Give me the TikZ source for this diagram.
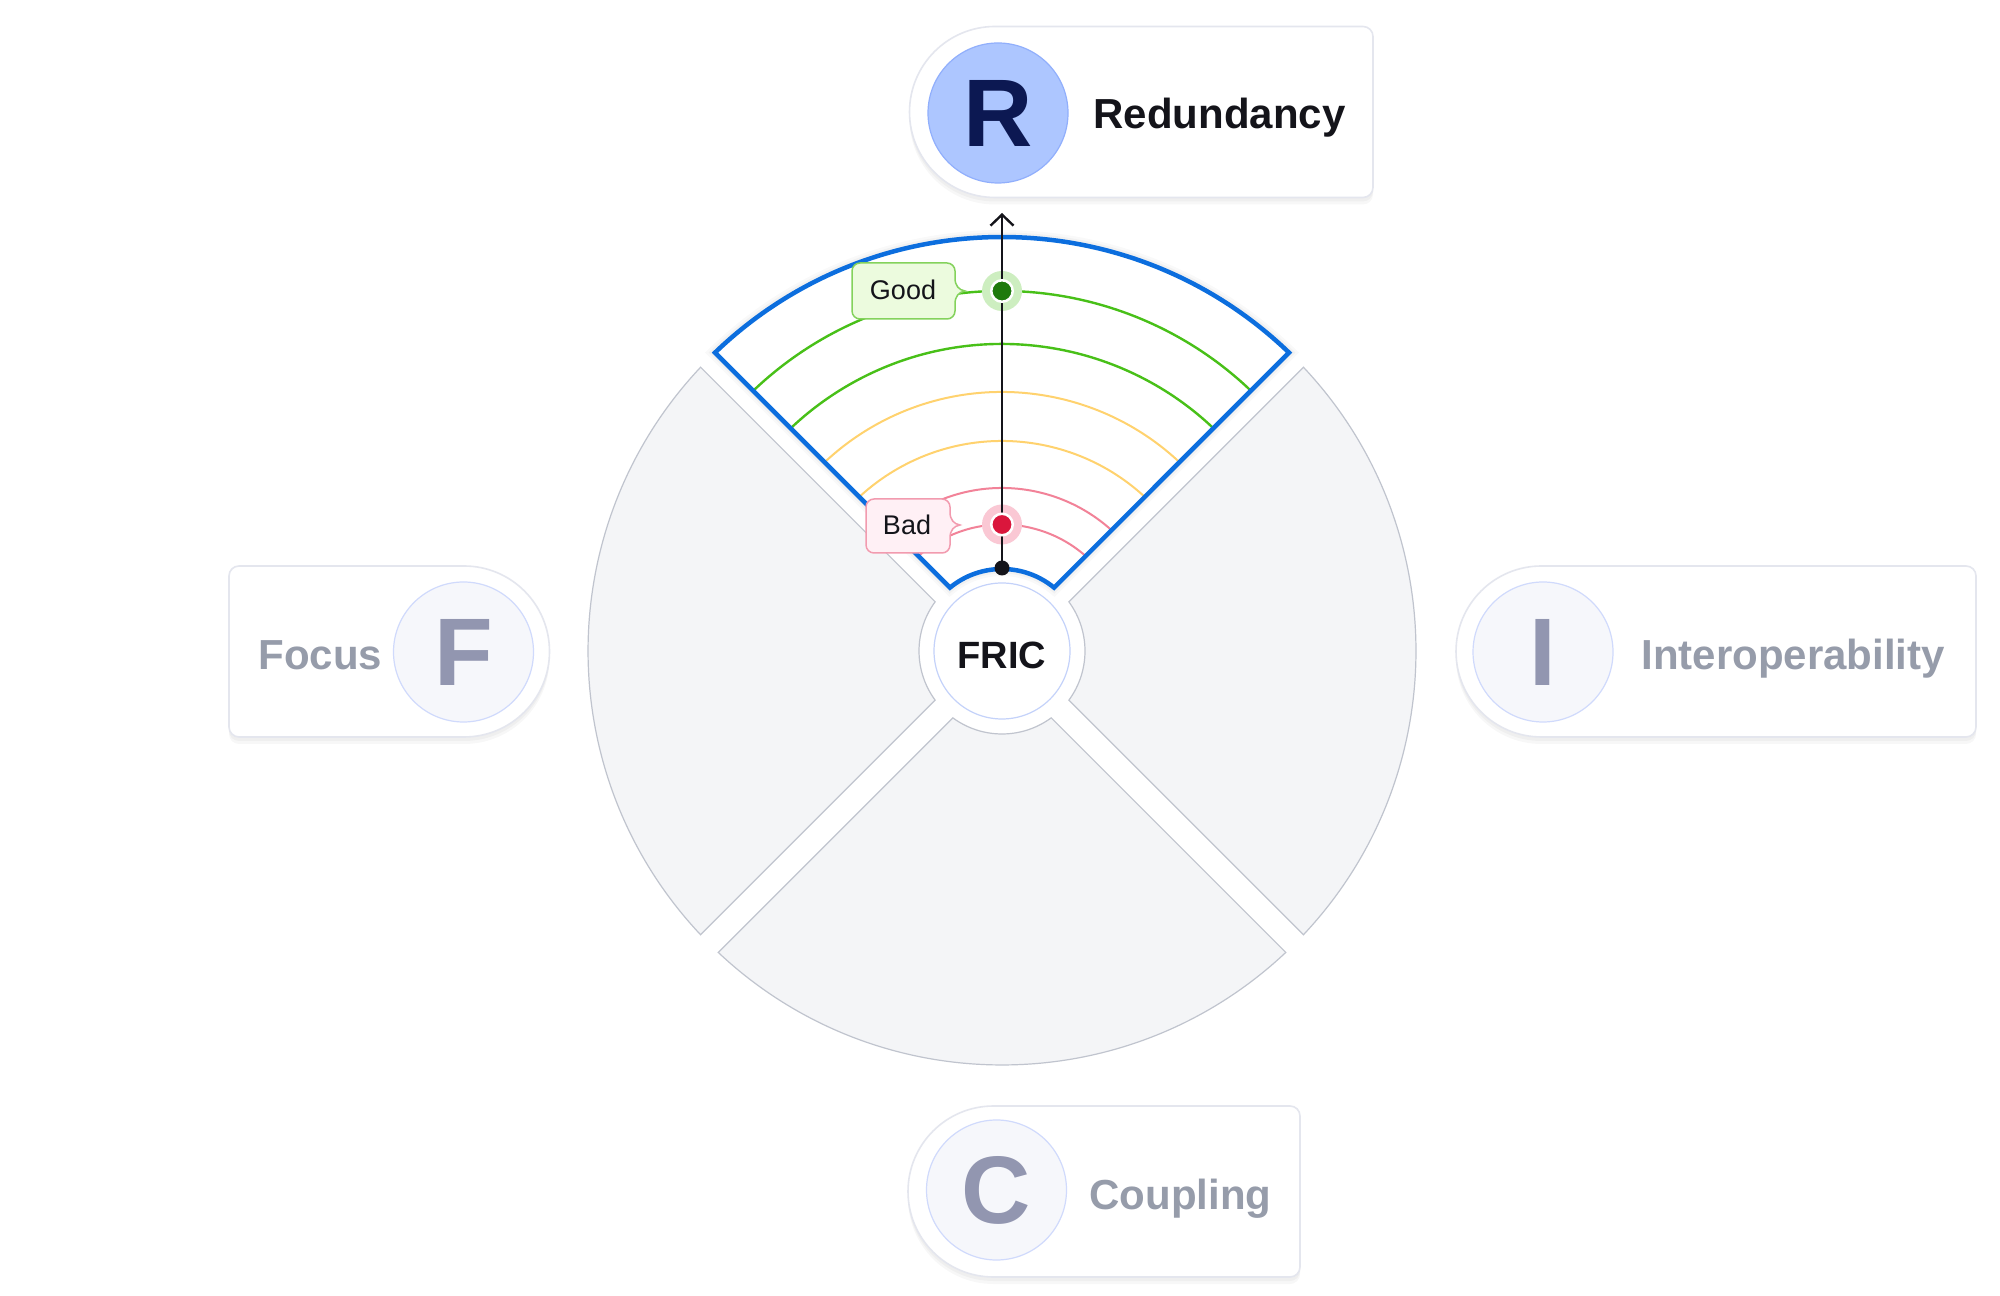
\documentclass[tikz,border=0pt]{standalone}
\usepackage{fontspec}
\setmainfont{Liberation Sans}
\usetikzlibrary{arrows.meta,calc}
\definecolor{sectfill}{RGB}{244,245,247}
\definecolor{sectline}{RGB}{192,196,206}
\definecolor{blueedge}{RGB}{12,110,222}
\definecolor{ringgreen}{RGB}{72,192,24}
\definecolor{ringyellow}{RGB}{255,210,110}
\definecolor{ringpink}{RGB}{242,130,152}
\definecolor{cardline}{RGB}{228,230,238}
\definecolor{mutedfill}{RGB}{246,247,251}
\definecolor{mutedline}{RGB}{208,218,252}
\definecolor{mutedletter}{RGB}{146,150,176}
\definecolor{mutedtext}{RGB}{150,156,170}
\definecolor{activefill}{RGB}{173,198,255}
\definecolor{activeline}{RGB}{145,175,252}
\definecolor{activeletter}{RGB}{12,24,82}
\definecolor{ink}{RGB}{20,20,26}
\definecolor{goodfill}{RGB}{236,251,222}
\definecolor{goodline}{RGB}{132,210,92}
\definecolor{gooddot}{RGB}{30,122,12}
\definecolor{goodhalo}{RGB}{205,238,192}
\definecolor{badfill}{RGB}{255,240,245}
\definecolor{badline}{RGB}{242,155,175}
\definecolor{baddot}{RGB}{218,22,60}
\definecolor{badhalo}{RGB}{250,200,212}
\definecolor{fricline}{RGB}{196,210,250}
\newcommand{\leftpill}[3]{(#1,#2+85.5) -- (#3-10,#2+85.5) arc[start angle=90,end angle=0,radius=10] -- (#3,#2-75.5) arc[start angle=0,end angle=-90,radius=10] -- (#1,#2-85.5) arc[start angle=270,end angle=90,radius=85.5] -- cycle}
\newcommand{\rightpill}[3]{(#1,#2+85.5) arc[start angle=90,end angle=-90,radius=85.5] -- (#3+10,#2-85.5) arc[start angle=270,end angle=180,radius=10] -- (#3,#2+75.5) arc[start angle=180,end angle=90,radius=10] -- cycle}
\newcommand{\bluepath}{(133.89:414) arc[start angle=133.89,end angle=46.11,radius=414] -- (50.6:82) arc[start angle=50.6,end angle=129.4,radius=82] -- cycle}
\begin{document}
\begin{tikzpicture}[x=0.5pt,y=0.5pt,
  card/.style={fill=white, draw=cardline, line width=0.8pt},
  cardshadow/.style={fill=black, fill opacity=0.03, draw=none},
  lettercircle/.style={circle, minimum size=70pt, inner sep=0pt, line width=0.6pt, font=\fontsize{48}{50}\selectfont\bfseries},
  mutedcircle/.style={lettercircle, fill=mutedfill, draw=mutedline, text=mutedletter},
  activecircle/.style={lettercircle, fill=activefill, draw=activeline, text=activeletter},
  cardlabel/.style={anchor=base west, inner sep=0pt, font=\fontsize{21}{25}\selectfont\bfseries},
  sector/.style={fill=sectfill, draw=sectline, line width=0.6pt},
  ringg/.style={draw=ringgreen, line width=1.2pt},
  ringy/.style={draw=ringyellow, line width=1pt},
  ringp/.style={draw=ringpink, line width=1pt},
  halo/.style={circle, minimum size=20pt, inner sep=0pt, draw=none},
  valuedot/.style={circle, minimum size=10.75pt, inner sep=0pt, draw=white, line width=1.25pt},
  labeltext/.style={anchor=base, inner sep=0pt, text=ink, font=\fontsize{13.5}{15}\selectfont},
  goodlabel/.style={fill=goodfill, draw=goodline, line width=0.75pt},
  badlabel/.style={fill=badfill, draw=badline, line width=0.75pt}
]
\useasboundingbox (0,0) rectangle (2000,1295);
\fill[white] (0,0) rectangle (2000,1295);

% ---------- cards ----------
\fill[cardshadow, shift={(0,-4)}] \leftpill{995}{1183}{1373};
\fill[cardshadow, shift={(0,-7)}] \leftpill{995}{1183}{1373};
\path[card] \leftpill{995}{1183}{1373};
\node[activecircle] (rcirc) at (998,1182) {R};
\node[cardlabel, text=ink] (rtext) at (1093,1166) {Redundancy};

\fill[cardshadow, shift={(0,-4)}] \rightpill{464}{643.5}{229};
\fill[cardshadow, shift={(0,-7)}] \rightpill{464}{643.5}{229};
\path[card] \rightpill{464}{643.5}{229};
\node[mutedcircle] (fcirc) at (463.5,643) {F};
\node[cardlabel, text=mutedtext] (ftext) at (258,625) {Focus};

\fill[cardshadow, shift={(0,-4)}] \leftpill{1541.5}{643.5}{1976};
\fill[cardshadow, shift={(0,-7)}] \leftpill{1541.5}{643.5}{1976};
\path[card] \leftpill{1541.5}{643.5}{1976};
\node[mutedcircle] (icirc) at (1543,643) {I};
\node[cardlabel, text=mutedtext] (itext) at (1641,625) {Interoperability};

\fill[cardshadow, shift={(0,-4)}] \leftpill{993.5}{103.5}{1300};
\fill[cardshadow, shift={(0,-7)}] \leftpill{993.5}{103.5}{1300};
\path[card] \leftpill{993.5}{103.5}{1300};
\node[mutedcircle] (ccirc) at (996.5,105) {C};
\node[cardlabel, text=mutedtext] (ctext) at (1089,86) {Coupling};

% ---------- wheel ----------
\begin{scope}[shift={(1002,644)}]
  \foreach \b in {0,180,270} {
    \path[sector] ({\b+43.27}:414) arc[start angle={\b+43.27}, end angle={\b-43.27}, radius=414]
       -- ({\b-36.34}:83) arc[start angle={\b-36.34}, end angle={\b+36.34}, radius=83] -- cycle;
  }
  % active sector
  \draw[line width=7pt, draw opacity=0.025, black] \bluepath;
  \draw[line width=4.5pt, draw opacity=0.03, black] \bluepath;
  \fill[white] \bluepath;
  \begin{scope}
    \clip \bluepath;
    \draw[ringg] (30:360) arc[start angle=30, end angle=150, radius=360];
    \draw[ringg] (30:307) arc[start angle=30, end angle=150, radius=307];
    \draw[ringy] (30:259) arc[start angle=30, end angle=150, radius=259];
    \draw[ringy] (30:210) arc[start angle=30, end angle=150, radius=210];
    \draw[ringp] (30:163) arc[start angle=30, end angle=150, radius=163];
    \draw[ringp] (30:126.5) arc[start angle=30, end angle=150, radius=126.5];
  \end{scope}
  \draw[blueedge, line width=2.25pt] \bluepath;

  % centre
  \node[circle, minimum size=68pt, inner sep=0pt, fill=white, draw=fricline, line width=0.6pt,
        text=ink, font=\fontsize{19}{21}\selectfont\bfseries, text height=17.6pt, text depth=0pt] (fric) at (0,0) {FRIC};

  % value markers
  \node[halo, fill=goodhalo] (goodhalo) at (90:360) {};
  \node[halo, fill=badhalo] (badhalo) at (90:126.5) {};
  \coordinate (tip) at (90:438);
  \node[circle, minimum size=7.5pt, inner sep=0pt, fill=ink] (origin) at (90:83) {};
  \draw[ink, line width=1.2pt, -{Straight Barb[length=5.5pt,width=11.5pt]}] (origin.center) -- (tip);
  \node[valuedot, fill=gooddot] (gooddot) at (90:360) {};
  \node[valuedot, fill=baddot] (baddot) at (90:126.5) {};
\end{scope}

% ---------- labels ----------
\path[goodlabel] (965,1004) .. controls (959,1005) and (955,1009) .. (955,1017) -- (955,1024)
  arc[start angle=0, end angle=90, radius=8] -- (860,1032)
  arc[start angle=90, end angle=180, radius=8] -- (852,984)
  arc[start angle=180, end angle=270, radius=8] -- (947,976)
  arc[start angle=270, end angle=360, radius=8] -- (955,991)
  .. controls (955,999) and (959,1003) .. (965,1004) -- cycle;
\node[labeltext] (goodtext) at (903,995) {Good};

\path[badlabel] (960,770) .. controls (954,771) and (950,775) .. (950,783) -- (950,788)
  arc[start angle=0, end angle=90, radius=8] -- (874,796)
  arc[start angle=90, end angle=180, radius=8] -- (866,750)
  arc[start angle=180, end angle=270, radius=8] -- (942,742)
  arc[start angle=270, end angle=360, radius=8] -- (950,757)
  .. controls (950,765) and (954,769) .. (960,770) -- cycle;
\node[labeltext] (badtext) at (907,760) {Bad};
\end{tikzpicture}
\end{document}
